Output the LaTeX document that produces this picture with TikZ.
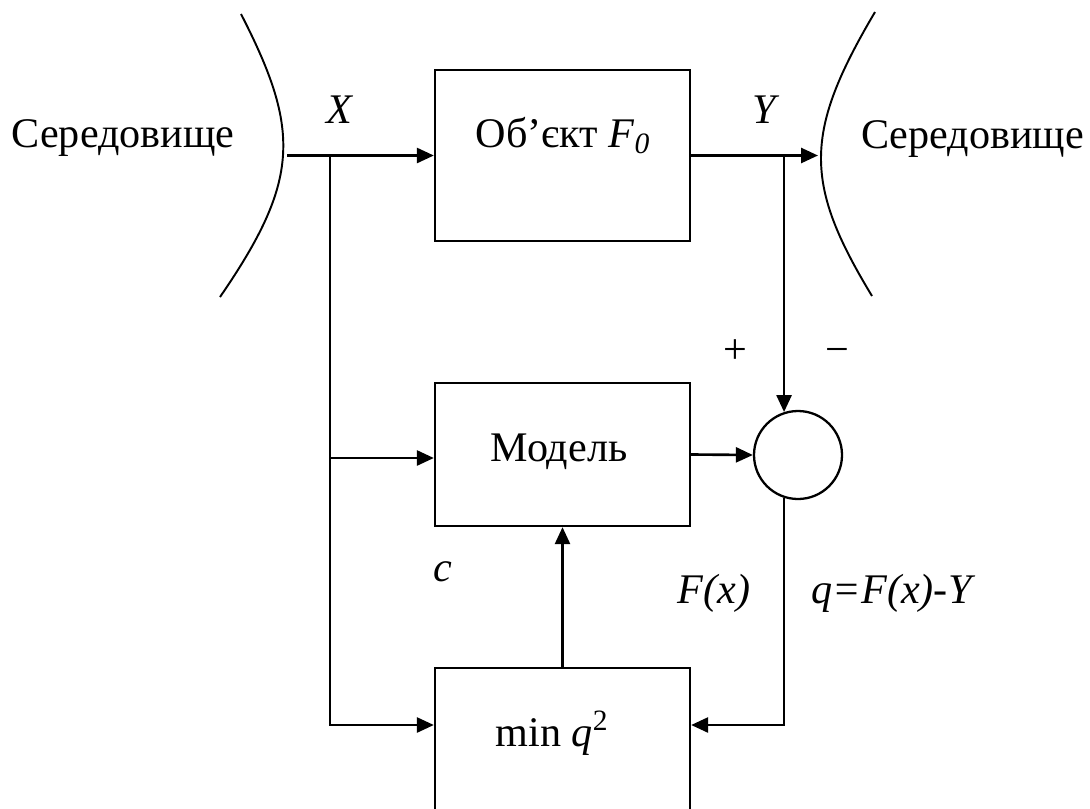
\documentclass[tikz,border=0pt]{standalone}
\usepackage{fontspec}
\setmainfont{Liberation Serif}
\usetikzlibrary{positioning,arrows.meta,calc}

\begin{document}
\begin{tikzpicture}[
    box/.style={draw, line width=1.3pt, minimum width=5.1cm, minimum height=#1, inner sep=0pt},
    box/.default=2.86cm,
    sumnode/.style={draw, line width=1.3pt, circle, minimum size=1.76cm, inner sep=0pt},
    arr/.style={line width=1.5pt, -{Triangle[length=0.34cm, width=0.3cm]}},
    wire/.style={line width=1.1pt},
    txt/.style={anchor=base, font=\fontsize{24}{28}\selectfont},
]
\clip (0,0) rectangle (21.8,-16.16);

\node[box=3.42cm] (obj) at (11.25,-3.11) {};
\node[box] (model) at (11.25,-9.09) {};
\node[box] (min) at (11.25,-14.79) {};
\node[sumnode] (sum) at (15.96,-9.1) {};

\node[txt] (objtxt) at (11.26,-2.94) {Об’єкт \textit{F\textsubscript{0}}};
\node[txt] (modeltxt) at (11.18,-9.22) {Модель};
\node[txt] (mintxt) at (11.04,-14.92) {min \textit{q}\textsuperscript{2}};

\node[txt] (envl) at (2.46,-2.94) {Середовище};
\node[txt] (envr) at (19.45,-2.96) {Середовище};
\node[txt] (xlbl) at (6.8,-2.46) {\textit{X}};
\node[txt] (ylbl) at (15.32,-2.46) {\textit{Y}};
\node[txt] (plus) at (14.7,-7.26) {+};
\node[txt] (minus) at (16.74,-7.26) {−};
\node[txt] (clbl) at (8.86,-11.62) {\textit{c}};
\node[txt] (flbl) at (14.28,-12.06) {\textit{F(x)}};
\node[txt] (qlbl) at (17.87,-12.06) {\textit{q=F(x)-Y}};

% environment boundaries
\draw[wire] (4.82,-0.28) .. controls (6.01,-2.6) and (6.01,-3.6) .. (4.4,-5.94);
\draw[wire] (17.5,-0.24) .. controls (16.07,-2.66) and (16.07,-3.66) .. (17.44,-5.92);

\coordinate (xin) at (5.74,-3.11);
\coordinate (xfork) at (6.6,-3.11);
\coordinate (yfork) at (sum.108 |- obj.east);
\coordinate (yout) at (16.36,-3.11);

\draw[arr] (xin) -- (obj.west);
\draw[arr] (xfork) |- ([yshift=-0.07cm]model.west);
\draw[arr] (xfork) |- ([yshift=0.29cm]min.west);
\draw[arr] (obj.east) -- (yout);
\draw[arr] (yfork) -- (sum.108);
\draw[arr] (model.east) -- (sum.west);
\draw[arr] (sum.252) |- ([yshift=0.29cm]min.east);
\draw[arr] (min.north) -- (model.south);
\end{tikzpicture}
\end{document}
